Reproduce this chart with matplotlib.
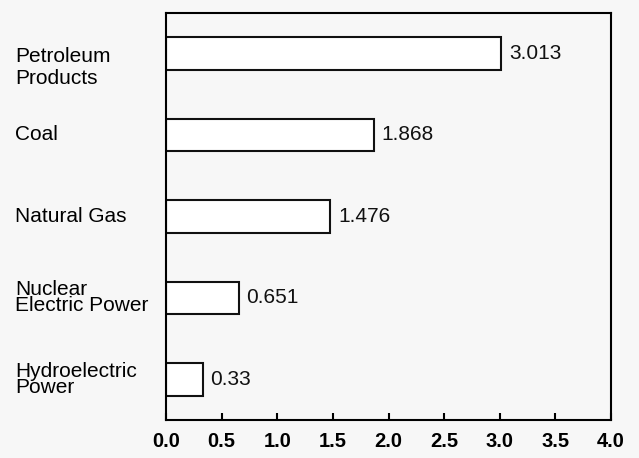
import matplotlib
matplotlib.use("Agg")
import matplotlib.pyplot as plt

# Energy sources and values
sources = ["Petroleum\nProducts", "Coal", "Natural Gas",
           "Nuclear\nElectric Power", "Hydroelectric\nPower"]
values = [3.013, 1.868, 1.476, 0.651, 0.33]
value_labels = ["3.013", "1.868", "1.476", "0.651", "0.33"]
xticks = [0.0, 0.5, 1.0, 1.5, 2.0, 2.5, 3.0, 3.5, 4.0]

plt.rcParams['font.family'] = ['Liberation Sans', 'DejaVu Sans']

fig = plt.figure(figsize=(6.39, 4.58), dpi=100, facecolor='#f7f7f7')
ax = fig.add_axes([0.26, 0.083, 0.696, 0.889], facecolor='#f7f7f7')

pos = list(range(len(sources)))
ax.barh(pos, values, height=0.4, color='white', edgecolor='#111111', linewidth=1.5)

for p, v, lab in zip(pos, values, value_labels):
    ax.text(v + 0.07, p, lab, va='center', ha='left', fontsize=15, color='#111111')

ax.set_xlim(0, 4.0)
ax.set_ylim(len(sources) - 0.5, -0.5)
ax.set_xticks(xticks)
ax.set_xticklabels(["%.1f" % t for t in xticks], fontsize=14.5, fontweight='bold')
ax.tick_params(axis='x', direction='in', length=5, width=1.5, pad=9)
ax.set_yticks([])

for s in ax.spines.values():
    s.set_linewidth(1.5)

# category labels sit in the left margin, aligned with bars
fig.canvas.draw()
spacings = [1.2, 1.0, 1.0, 0.8, 0.8]
shifts = [-14, 0, 0, 0, 0]
for p, name, ls, dy in zip(pos, sources, spacings, shifts):
    y = ax.transData.transform((0, p))[1] + dy
    fig.text(15 / 639, y / 458, name, fontsize=15, va='center', ha='left',
             linespacing=ls)

fig.savefig("out.png", dpi=100, facecolor=fig.get_facecolor())
